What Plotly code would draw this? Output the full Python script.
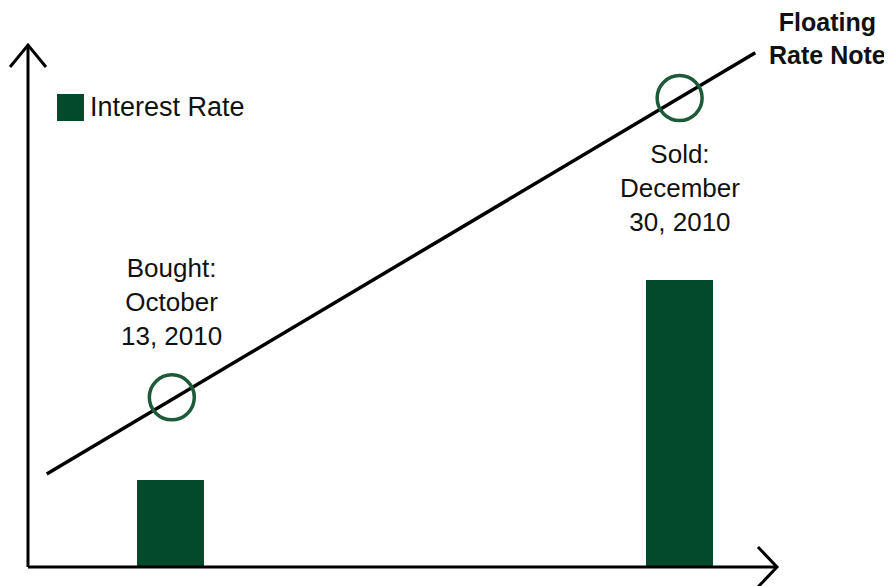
import plotly.graph_objects as go

# ---- data (arbitrary units) ----
trade_labels = ["Bought:<br>October<br>13, 2010", "Sold:<br>December<br>30, 2010"]
bar_x = [1.9, 8.7]            # trade dates on a relative time scale
rate_values = [1.0, 3.3]      # interest rate level (relative)
note_x = [0.25, 9.71]         # floating rate note price line
note_y = [1.07, 5.91]
trade_x = [1.92, 8.7]         # circles on the note line
trade_y = [1.95, 5.39]
label_y = [3.05, 4.36]
series_name = "Interest Rate"
line_name = "Floating<br>Rate Note"

BAR_GREEN = "#034a2c"
CIRCLE_GREEN = "#1d5a39"
FONT = "Liberation Sans, Arial, sans-serif"

fig = go.Figure()
fig.add_trace(go.Bar(x=bar_x, y=rate_values, width=0.9, marker=dict(color=BAR_GREEN, line=dict(width=0)),
                     name=series_name, showlegend=False))
fig.add_trace(go.Scatter(x=note_x, y=note_y, mode="lines", line=dict(color="black", width=3.5),
                         showlegend=False, cliponaxis=False))
fig.add_trace(go.Scatter(x=trade_x, y=trade_y, mode="markers",
                         marker=dict(symbol="circle-open", size=45, color=CIRCLE_GREEN,
                                     line=dict(color=CIRCLE_GREEN, width=3.5)),
                         showlegend=False, cliponaxis=False))

for xv, yv, txt in zip(trade_x, label_y, trade_labels):
    fig.add_annotation(x=xv, y=yv, text=txt, showarrow=False, xanchor="center", yanchor="middle",
                       font=dict(family=FONT, size=26, color="#111111"), align="center")

fig.add_annotation(xref="paper", yref="paper", x=1.068, y=1.012, text="<b>" + line_name + "</b>",
                   showarrow=False, xanchor="center", yanchor="middle", align="center",
                   font=dict(family=FONT, size=25, color="#111111"))

# legend (manual, large swatch)
fig.add_shape(type="rect", xref="paper", yref="paper", x0=0.0387, x1=0.0748, y0=0.8544, y1=0.9061,
              fillcolor=BAR_GREEN, line=dict(width=0))
fig.add_annotation(xref="paper", yref="paper", x=0.0801, y=0.882, text=series_name, showarrow=False,
                   xanchor="left", yanchor="middle", font=dict(family=FONT, size=27, color="#111111"))

# axes with open chevron arrowheads
ax = dict(color="black", width=3)
fig.add_shape(type="line", xref="paper", yref="paper", x0=0, y0=0, x1=0, y1=1, line=ax)
fig.add_shape(type="line", xref="paper", yref="paper", x0=0, y0=0, x1=1, y1=0, line=ax)
fig.add_shape(type="path", xref="paper", yref="paper", path="M -0.024,0.958 L 0,1 L 0.024,0.958", line=ax)
fig.add_shape(type="path", xref="paper", yref="paper", path="M 0.9746,0.0383 L 1,0 L 0.9746,-0.0383", line=ax)

# page body adds an 8px margin, so the figure is 8px smaller and margins shifted
fig.update_layout(
    width=884, height=578, autosize=False,
    margin=dict(l=20, r=115, t=37, b=19, pad=0),
    paper_bgcolor="white", plot_bgcolor="white",
    xaxis=dict(range=[0, 10], visible=False, fixedrange=True),
    yaxis=dict(range=[0, 6], visible=False, fixedrange=True),
    bargap=0,
)

fig.write_html("out.html")
